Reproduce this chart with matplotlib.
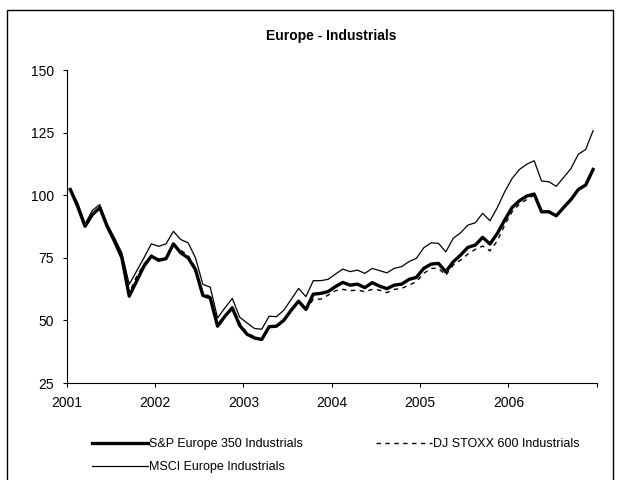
import numpy as np
import matplotlib.pyplot as plt
from matplotlib.patches import Rectangle

plt.rcParams['font.family'] = ['Liberation Sans Narrow', 'Liberation Sans', 'DejaVu Sans']

# Monthly index levels, Jan 2001 - Dec 2006
sp350 = [102.3, 95.5, 87.6, 92.3, 95.0, 87.6, 81.6, 75.0, 59.7, 65.7, 71.7, 75.7,
         74.0, 74.7, 80.6, 77.0, 75.0, 70.3, 60.0, 59.0, 47.7, 51.7, 55.0, 48.0,
         44.5, 43.0, 42.4, 47.5, 47.7, 50.1, 54.1, 57.7, 54.4, 60.5, 60.8, 61.5,
         63.5, 65.2, 64.1, 64.5, 63.1, 65.1, 63.7, 62.7, 64.1, 64.5, 66.4, 67.2,
         70.8, 72.5, 72.8, 69.4, 73.4, 76.1, 79.2, 80.1, 83.2, 80.5, 84.8, 90.1,
         95.1, 97.8, 99.7, 100.5, 93.4, 93.4, 91.8, 95.1, 98.3, 102.3, 104.1, 110.3]
stoxx600 = [102.0, 95.5, 87.8, 92.5, 95.5, 88.0, 82.5, 76.0, 61.0, 67.5, 72.5, 76.0,
            74.5, 75.0, 80.5, 78.0, 76.0, 71.0, 61.0, 59.5, 48.5, 52.0, 55.5, 49.0,
            45.0, 43.5, 42.5, 47.5, 47.5, 50.0, 54.0, 57.5, 54.0, 58.5, 58.5, 60.1,
            61.9, 62.4, 61.9, 62.1, 61.5, 62.4, 62.1, 61.1, 62.4, 62.8, 64.1, 65.5,
            68.8, 70.8, 70.8, 68.1, 72.1, 74.1, 76.5, 78.4, 79.7, 77.8, 81.8, 88.1,
            93.4, 96.5, 98.3, 100.1, 93.4, 93.4, 91.8, 95.1, 98.3, 102.3, 104.1, 110.3]
msci = [102.5, 97.0, 88.5, 94.0, 96.3, 88.5, 83.0, 77.0, 64.4, 69.7, 75.0, 80.6,
        79.6, 80.6, 85.6, 82.3, 81.0, 75.0, 64.4, 63.3, 51.0, 55.0, 58.8, 51.3,
        49.0, 46.8, 46.5, 51.7, 51.5, 54.1, 58.4, 62.8, 59.5, 65.9, 65.9, 66.4,
        68.5, 70.5, 69.5, 70.1, 68.8, 70.8, 69.9, 69.0, 70.8, 71.5, 73.5, 74.8,
        79.0, 81.0, 80.8, 77.4, 82.8, 85.0, 88.1, 89.0, 92.8, 89.8, 95.1, 101.4,
        106.7, 110.3, 112.4, 113.8, 105.7, 105.4, 103.6, 107.1, 110.7, 116.4, 118.3, 125.8]
years = ['2001', '2002', '2003', '2004', '2005', '2006', '']

x = np.arange(len(sp350)) + 0.5

fig = plt.figure(figsize=(6.2, 4.8), dpi=100)
ax = fig.add_axes([0.1075, 0.202, 0.855, 0.652])

l_sp, = ax.plot(x, sp350, color='k', lw=2.4, label='S&P Europe 350 Industrials')
l_dj, = ax.plot(x, stoxx600, color='k', lw=1.0, ls=(0, (3.2, 3.2)),
                label='DJ STOXX 600 Industrials')
l_ms, = ax.plot(x, msci, color='k', lw=0.9, label='MSCI Europe Industrials')

ax.set_xlim(0, 72)
ax.set_ylim(25, 150)
ax.set_xticks(np.arange(0, 73, 12))
ax.set_xticklabels(years)
ax.set_yticks([25, 50, 75, 100, 125, 150])
ax.tick_params(direction='out', length=3, width=0.8, labelsize=10, pad=6)
for s in ['top', 'right']:
    ax.spines[s].set_visible(False)
for s in ['left', 'bottom']:
    ax.spines[s].set_linewidth(0.8)

fig.text(0.535, 0.925, 'Europe - Industrials', ha='center', va='center',
         fontsize=10, fontweight='bold')

# column-wise fill: S&P and MSCI in the first column, DJ STOXX in the second
fig.legend([l_sp, l_ms, l_dj],
           [l_sp.get_label(), l_ms.get_label(), l_dj.get_label()],
           ncol=2, frameon=False, loc='upper left', bbox_to_anchor=(0.13, 0.11),
           fontsize=9, handlelength=4.5, handletextpad=0.1, columnspacing=5.8,
           labelspacing=0.85)

fig.patches.append(Rectangle((0.012, -0.01), 0.976, 0.99, transform=fig.transFigure,
                             fill=False, edgecolor='k', lw=1.0))

fig.savefig('out.png', dpi=100)
